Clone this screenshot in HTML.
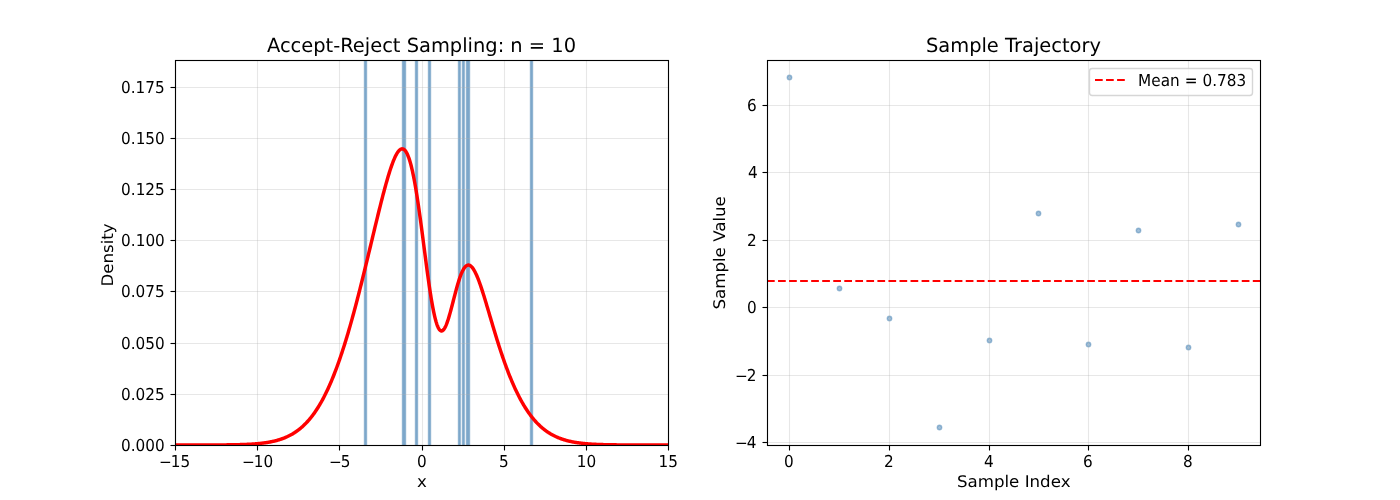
<!DOCTYPE html>
<html lang="en">
<head>
<meta charset="utf-8">
<title>Accept-Reject Sampling</title>
<style>
html,body{margin:0;padding:0;background:#fff;}
body{width:1400px;height:500px;overflow:hidden;}
svg{display:block;}
text{font-family:"DejaVu Sans", "Liberation Sans", sans-serif;fill:#000;text-rendering:geometricPrecision;}
.t11{font-size:15.278px;}
.t12{font-size:16.667px;}
.t14{font-size:19.444px;}
.grid line{stroke:#b0b0b0;stroke-opacity:0.3;stroke-width:1.111;}
.sp{stroke:#000;stroke-width:1.111;fill:none;stroke-linecap:square;}
.tk line{stroke:#000;stroke-width:1.111;}
</style>
</head>
<body>
<svg width="1400" height="500" viewBox="0 0 1400 500">
<rect x="0" y="0" width="1400" height="500" fill="#ffffff"/>
<defs>
<clipPath id="c1"><rect x="175" y="60" width="493.18" height="385"/></clipPath>
<clipPath id="c2"><rect x="766.82" y="60" width="493.18" height="385"/></clipPath>
</defs>
<g id="hist" clip-path="url(#c1)" shape-rendering="crispEdges">
<rect x="363" y="60" width="1" height="386" fill="#ebf1f6"/>
<rect x="364" y="60" width="1" height="386" fill="#8eb3d1"/>
<rect x="365" y="60" width="1" height="386" fill="#7da7ca"/>
<rect x="366" y="60" width="1" height="386" fill="#8eb3d1"/>
<rect x="367" y="60" width="1" height="386" fill="#ebf1f6"/>
<rect x="401" y="60" width="1" height="386" fill="#ebf1f6"/>
<rect x="402" y="60" width="1" height="386" fill="#8eb3d1"/>
<rect x="403" y="60" width="1" height="386" fill="#7da7ca"/>
<rect x="404" y="60" width="1" height="386" fill="#7da7ca"/>
<rect x="405" y="60" width="1" height="386" fill="#8eb3d1"/>
<rect x="406" y="60" width="1" height="386" fill="#ebf1f6"/>
<rect x="414" y="60" width="1" height="386" fill="#ebf1f6"/>
<rect x="415" y="60" width="1" height="386" fill="#8eb3d1"/>
<rect x="416" y="60" width="1" height="386" fill="#7da7ca"/>
<rect x="417" y="60" width="1" height="386" fill="#8eb3d1"/>
<rect x="418" y="60" width="1" height="386" fill="#ebf1f6"/>
<rect x="427" y="60" width="1" height="386" fill="#ebf1f6"/>
<rect x="428" y="60" width="1" height="386" fill="#8eb3d1"/>
<rect x="429" y="60" width="1" height="386" fill="#7da7ca"/>
<rect x="430" y="60" width="1" height="386" fill="#8eb3d1"/>
<rect x="431" y="60" width="1" height="386" fill="#ebf1f6"/>
<rect x="457" y="60" width="1" height="386" fill="#ebf1f6"/>
<rect x="458" y="60" width="1" height="386" fill="#8eb3d1"/>
<rect x="459" y="60" width="1" height="386" fill="#7da7ca"/>
<rect x="460" y="60" width="1" height="386" fill="#9dbdd7"/>
<rect x="461" y="60" width="1" height="386" fill="#e7eef5"/>
<rect x="462" y="60" width="1" height="386" fill="#8eb3d1"/>
<rect x="463" y="60" width="1" height="386" fill="#7da7ca"/>
<rect x="464" y="60" width="1" height="386" fill="#9dbdd7"/>
<rect x="465" y="60" width="1" height="386" fill="#e7eef5"/>
<rect x="466" y="60" width="1" height="386" fill="#8eb3d1"/>
<rect x="467" y="60" width="1" height="386" fill="#7da7ca"/>
<rect x="468" y="60" width="1" height="386" fill="#7da7ca"/>
<rect x="469" y="60" width="1" height="386" fill="#8eb3d1"/>
<rect x="470" y="60" width="1" height="386" fill="#ebf1f6"/>
<rect x="529" y="60" width="1" height="386" fill="#ebf1f6"/>
<rect x="530" y="60" width="1" height="386" fill="#8eb3d1"/>
<rect x="531" y="60" width="1" height="386" fill="#7da7ca"/>
<rect x="532" y="60" width="1" height="386" fill="#8eb3d1"/>
<rect x="533" y="60" width="1" height="386" fill="#ebf1f6"/>
</g>
<g class="grid">
<line x1="175.5" y1="60" x2="175.5" y2="445"/>
<line x1="257.5" y1="60" x2="257.5" y2="445"/>
<line x1="339.5" y1="60" x2="339.5" y2="445"/>
<line x1="422.5" y1="60" x2="422.5" y2="445"/>
<line x1="504.5" y1="60" x2="504.5" y2="445"/>
<line x1="586.5" y1="60" x2="586.5" y2="445"/>
<line x1="668.5" y1="60" x2="668.5" y2="445"/>
<line x1="175" y1="445.5" x2="668.18" y2="445.5"/>
<line x1="175" y1="394.5" x2="668.18" y2="394.5"/>
<line x1="175" y1="343.5" x2="668.18" y2="343.5"/>
<line x1="175" y1="291.5" x2="668.18" y2="291.5"/>
<line x1="175" y1="240.5" x2="668.18" y2="240.5"/>
<line x1="175" y1="189.5" x2="668.18" y2="189.5"/>
<line x1="175" y1="138.5" x2="668.18" y2="138.5"/>
<line x1="175" y1="87.5" x2="668.18" y2="87.5"/>
</g>
<path d="M175 444.999 L175.494 444.999 L175.987 444.999 L176.481 444.999 L176.975 444.998 L177.468 444.998 L177.962 444.998 L178.456 444.998 L178.949 444.998 L179.443 444.998 L179.937 444.998 L180.43 444.998 L180.924 444.998 L181.418 444.998 L181.911 444.997 L182.405 444.997 L182.899 444.997 L183.392 444.997 L183.886 444.997 L184.38 444.997 L184.874 444.997 L185.367 444.996 L185.861 444.996 L186.355 444.996 L186.848 444.996 L187.342 444.996 L187.836 444.995 L188.329 444.995 L188.823 444.995 L189.317 444.995 L189.81 444.995 L190.304 444.994 L190.798 444.994 L191.291 444.994 L191.785 444.993 L192.279 444.993 L192.772 444.993 L193.266 444.992 L193.76 444.992 L194.253 444.992 L194.747 444.991 L195.241 444.991 L195.734 444.99 L196.228 444.99 L196.722 444.99 L197.215 444.989 L197.709 444.989 L198.203 444.988 L198.696 444.988 L199.19 444.987 L199.684 444.986 L200.177 444.986 L200.671 444.985 L201.165 444.984 L201.658 444.984 L202.152 444.983 L202.646 444.982 L203.14 444.981 L203.633 444.98 L204.127 444.98 L204.621 444.979 L205.114 444.978 L205.608 444.977 L206.102 444.976 L206.595 444.975 L207.089 444.973 L207.583 444.972 L208.076 444.971 L208.57 444.97 L209.064 444.968 L209.557 444.967 L210.051 444.966 L210.545 444.964 L211.038 444.962 L211.532 444.961 L212.026 444.959 L212.519 444.957 L213.013 444.956 L213.507 444.954 L214 444.952 L214.494 444.95 L214.988 444.947 L215.481 444.945 L215.975 444.943 L216.469 444.94 L216.962 444.938 L217.456 444.935 L217.95 444.932 L218.443 444.93 L218.937 444.927 L219.431 444.924 L219.924 444.92 L220.418 444.917 L220.912 444.914 L221.405 444.91 L221.899 444.906 L222.393 444.902 L222.887 444.898 L223.38 444.894 L223.874 444.89 L224.368 444.885 L224.861 444.881 L225.355 444.876 L225.849 444.871 L226.342 444.866 L226.836 444.86 L227.33 444.854 L227.823 444.849 L228.317 444.843 L228.811 444.836 L229.304 444.83 L229.798 444.823 L230.292 444.816 L230.785 444.809 L231.279 444.801 L231.773 444.793 L232.266 444.785 L232.76 444.777 L233.254 444.768 L233.747 444.759 L234.241 444.75 L234.735 444.74 L235.228 444.73 L235.722 444.72 L236.216 444.709 L236.709 444.698 L237.203 444.686 L237.697 444.674 L238.19 444.662 L238.684 444.649 L239.178 444.636 L239.671 444.622 L240.165 444.608 L240.659 444.593 L241.153 444.578 L241.646 444.562 L242.14 444.546 L242.634 444.529 L243.127 444.512 L243.621 444.494 L244.115 444.475 L244.608 444.456 L245.102 444.436 L245.596 444.415 L246.089 444.394 L246.583 444.372 L247.077 444.35 L247.57 444.326 L248.064 444.302 L248.558 444.277 L249.051 444.251 L249.545 444.225 L250.039 444.197 L250.532 444.169 L251.026 444.139 L251.52 444.109 L252.013 444.078 L252.507 444.046 L253.001 444.012 L253.494 443.978 L253.988 443.943 L254.482 443.906 L254.975 443.868 L255.469 443.83 L255.963 443.789 L256.456 443.748 L256.95 443.706 L257.444 443.662 L257.937 443.616 L258.431 443.57 L258.925 443.522 L259.419 443.472 L259.912 443.421 L260.406 443.368 L260.9 443.314 L261.393 443.258 L261.887 443.201 L262.381 443.142 L262.874 443.081 L263.368 443.018 L263.862 442.954 L264.355 442.887 L264.849 442.819 L265.343 442.748 L265.836 442.676 L266.33 442.601 L266.824 442.525 L267.317 442.446 L267.811 442.365 L268.305 442.281 L268.798 442.195 L269.292 442.107 L269.786 442.017 L270.279 441.923 L270.773 441.828 L271.267 441.729 L271.76 441.628 L272.254 441.524 L272.748 441.417 L273.241 441.308 L273.735 441.195 L274.229 441.079 L274.722 440.96 L275.216 440.838 L275.71 440.713 L276.203 440.584 L276.697 440.452 L277.191 440.317 L277.685 440.178 L278.178 440.035 L278.672 439.889 L279.166 439.739 L279.659 439.585 L280.153 439.427 L280.647 439.264 L281.14 439.098 L281.634 438.928 L282.128 438.753 L282.621 438.574 L283.115 438.391 L283.609 438.203 L284.102 438.01 L284.596 437.813 L285.09 437.61 L285.583 437.403 L286.077 437.191 L286.571 436.973 L287.064 436.751 L287.558 436.523 L288.052 436.29 L288.545 436.051 L289.039 435.806 L289.533 435.556 L290.026 435.3 L290.52 435.038 L291.014 434.77 L291.507 434.496 L292.001 434.215 L292.495 433.928 L292.988 433.635 L293.482 433.335 L293.976 433.028 L294.469 432.715 L294.963 432.394 L295.457 432.067 L295.95 431.732 L296.444 431.39 L296.938 431.041 L297.432 430.684 L297.925 430.319 L298.419 429.947 L298.913 429.566 L299.406 429.178 L299.9 428.781 L300.394 428.377 L300.887 427.964 L301.381 427.542 L301.875 427.112 L302.368 426.673 L302.862 426.225 L303.356 425.768 L303.849 425.301 L304.343 424.826 L304.837 424.341 L305.33 423.847 L305.824 423.343 L306.318 422.829 L306.811 422.305 L307.305 421.772 L307.799 421.228 L308.292 420.673 L308.786 420.109 L309.28 419.534 L309.773 418.948 L310.267 418.351 L310.761 417.743 L311.254 417.125 L311.748 416.495 L312.242 415.854 L312.735 415.201 L313.229 414.537 L313.723 413.861 L314.216 413.173 L314.71 412.474 L315.204 411.762 L315.698 411.038 L316.191 410.302 L316.685 409.554 L317.179 408.793 L317.672 408.019 L318.166 407.233 L318.66 406.433 L319.153 405.621 L319.647 404.796 L320.141 403.957 L320.634 403.106 L321.128 402.24 L321.622 401.362 L322.115 400.469 L322.609 399.563 L323.103 398.644 L323.596 397.71 L324.09 396.763 L324.584 395.801 L325.077 394.825 L325.571 393.835 L326.065 392.831 L326.558 391.812 L327.052 390.779 L327.546 389.731 L328.039 388.669 L328.533 387.592 L329.027 386.5 L329.52 385.394 L330.014 384.273 L330.508 383.136 L331.001 381.985 L331.495 380.819 L331.989 379.638 L332.482 378.442 L332.976 377.23 L333.47 376.004 L333.964 374.762 L334.457 373.505 L334.951 372.233 L335.445 370.946 L335.938 369.644 L336.432 368.326 L336.926 366.993 L337.419 365.645 L337.913 364.282 L338.407 362.903 L338.9 361.51 L339.394 360.101 L339.888 358.677 L340.381 357.238 L340.875 355.784 L341.369 354.315 L341.862 352.83 L342.356 351.331 L342.85 349.818 L343.343 348.289 L343.837 346.746 L344.331 345.188 L344.824 343.615 L345.318 342.029 L345.812 340.427 L346.305 338.812 L346.799 337.182 L347.293 335.538 L347.786 333.881 L348.28 332.209 L348.774 330.524 L349.267 328.826 L349.761 327.114 L350.255 325.388 L350.748 323.65 L351.242 321.899 L351.736 320.135 L352.23 318.358 L352.723 316.569 L353.217 314.768 L353.711 312.955 L354.204 311.13 L354.698 309.293 L355.192 307.445 L355.685 305.585 L356.179 303.715 L356.673 301.834 L357.166 299.943 L357.66 298.041 L358.154 296.129 L358.647 294.208 L359.141 292.277 L359.635 290.337 L360.128 288.388 L360.622 286.43 L361.116 284.464 L361.609 282.49 L362.103 280.508 L362.597 278.519 L363.09 276.523 L363.584 274.52 L364.078 272.511 L364.571 270.495 L365.065 268.474 L365.559 266.447 L366.052 264.416 L366.546 262.38 L367.04 260.339 L367.533 258.295 L368.027 256.247 L368.521 254.196 L369.014 252.143 L369.508 250.088 L370.002 248.03 L370.495 245.972 L370.989 243.912 L371.483 241.852 L371.977 239.793 L372.47 237.734 L372.964 235.676 L373.458 233.62 L373.951 231.566 L374.445 229.514 L374.939 227.466 L375.432 225.422 L375.926 223.383 L376.42 221.348 L376.913 219.32 L377.407 217.297 L377.901 215.282 L378.394 213.275 L378.888 211.276 L379.382 209.286 L379.875 207.307 L380.369 205.338 L380.863 203.381 L381.356 201.437 L381.85 199.506 L382.344 197.589 L382.837 195.688 L383.331 193.803 L383.825 191.935 L384.318 190.086 L384.812 188.257 L385.306 186.448 L385.799 184.661 L386.293 182.897 L386.787 181.158 L387.28 179.445 L387.774 177.758 L388.268 176.101 L388.761 174.474 L389.255 172.878 L389.749 171.316 L390.243 169.788 L390.736 168.298 L391.23 166.845 L391.724 165.433 L392.217 164.064 L392.711 162.738 L393.205 161.458 L393.698 160.227 L394.192 159.046 L394.686 157.917 L395.179 156.843 L395.673 155.825 L396.167 154.867 L396.66 153.97 L397.154 153.137 L397.648 152.37 L398.141 151.671 L398.635 151.044 L399.129 150.49 L399.622 150.012 L400.116 149.612 L400.61 149.293 L401.103 149.058 L401.597 148.908 L402.091 148.846 L402.584 148.875 L403.078 148.996 L403.572 149.212 L404.065 149.526 L404.559 149.939 L405.053 150.453 L405.546 151.07 L406.04 151.791 L406.534 152.62 L407.027 153.556 L407.521 154.602 L408.015 155.758 L408.509 157.026 L409.002 158.407 L409.496 159.9 L409.99 161.506 L410.483 163.226 L410.977 165.059 L411.471 167.006 L411.964 169.064 L412.458 171.235 L412.952 173.515 L413.445 175.905 L413.939 178.401 L414.433 181.003 L414.926 183.708 L415.42 186.512 L415.914 189.414 L416.407 192.409 L416.901 195.495 L417.395 198.667 L417.888 201.921 L418.382 205.252 L418.876 208.656 L419.369 212.127 L419.863 215.66 L420.357 219.249 L420.85 222.888 L421.344 226.571 L421.838 230.292 L422.331 234.043 L422.825 237.818 L423.319 241.61 L423.812 245.412 L424.306 249.215 L424.8 253.013 L425.293 256.798 L425.787 260.562 L426.281 264.298 L426.775 267.997 L427.268 271.653 L427.762 275.257 L428.256 278.802 L428.749 282.281 L429.243 285.686 L429.737 289.009 L430.23 292.244 L430.724 295.384 L431.218 298.423 L431.711 301.354 L432.205 304.171 L432.699 306.869 L433.192 309.442 L433.686 311.885 L434.18 314.194 L434.673 316.364 L435.167 318.392 L435.661 320.274 L436.154 322.008 L436.648 323.592 L437.142 325.022 L437.635 326.298 L438.129 327.42 L438.623 328.386 L439.116 329.196 L439.61 329.851 L440.104 330.352 L440.597 330.701 L441.091 330.899 L441.585 330.949 L442.078 330.854 L442.572 330.617 L443.066 330.241 L443.559 329.732 L444.053 329.093 L444.547 328.329 L445.04 327.446 L445.534 326.448 L446.028 325.342 L446.522 324.135 L447.015 322.831 L447.509 321.438 L448.003 319.962 L448.496 318.411 L448.99 316.791 L449.484 315.109 L449.977 313.373 L450.471 311.589 L450.965 309.765 L451.458 307.907 L451.952 306.024 L452.446 304.122 L452.939 302.208 L453.433 300.289 L453.927 298.372 L454.42 296.462 L454.914 294.568 L455.408 292.694 L455.901 290.846 L456.395 289.031 L456.889 287.254 L457.382 285.52 L457.876 283.833 L458.37 282.2 L458.863 280.623 L459.357 279.107 L459.851 277.656 L460.344 276.273 L460.838 274.962 L461.332 273.724 L461.825 272.563 L462.319 271.482 L462.813 270.481 L463.306 269.562 L463.8 268.728 L464.294 267.978 L464.788 267.314 L465.281 266.736 L465.775 266.245 L466.269 265.84 L466.762 265.521 L467.256 265.288 L467.75 265.14 L468.243 265.076 L468.737 265.096 L469.231 265.198 L469.724 265.38 L470.218 265.641 L470.712 265.979 L471.205 266.394 L471.699 266.881 L472.193 267.441 L472.686 268.069 L473.18 268.765 L473.674 269.527 L474.167 270.35 L474.661 271.235 L475.155 272.177 L475.648 273.175 L476.142 274.226 L476.636 275.327 L477.129 276.477 L477.623 277.673 L478.117 278.913 L478.61 280.193 L479.104 281.512 L479.598 282.867 L480.091 284.257 L480.585 285.678 L481.079 287.129 L481.572 288.608 L482.066 290.112 L482.56 291.639 L483.054 293.188 L483.547 294.756 L484.041 296.342 L484.535 297.944 L485.028 299.559 L485.522 301.187 L486.016 302.826 L486.509 304.475 L487.003 306.131 L487.497 307.794 L487.99 309.461 L488.484 311.133 L488.978 312.807 L489.471 314.482 L489.965 316.158 L490.459 317.833 L490.952 319.506 L491.446 321.176 L491.94 322.843 L492.433 324.505 L492.927 326.162 L493.421 327.813 L493.914 329.458 L494.408 331.095 L494.902 332.724 L495.395 334.344 L495.889 335.956 L496.383 337.557 L496.876 339.149 L497.37 340.73 L497.864 342.3 L498.357 343.859 L498.851 345.406 L499.345 346.941 L499.838 348.463 L500.332 349.973 L500.826 351.47 L501.32 352.954 L501.813 354.425 L502.307 355.881 L502.801 357.325 L503.294 358.754 L503.788 360.169 L504.282 361.57 L504.775 362.957 L505.269 364.329 L505.763 365.687 L506.256 367.03 L506.75 368.359 L507.244 369.673 L507.737 370.972 L508.231 372.256 L508.725 373.525 L509.218 374.78 L509.712 376.019 L510.206 377.244 L510.699 378.453 L511.193 379.648 L511.687 380.828 L512.18 381.993 L512.674 383.143 L513.168 384.278 L513.661 385.399 L514.155 386.505 L514.649 387.596 L515.142 388.672 L515.636 389.734 L516.13 390.782 L516.623 391.814 L517.117 392.833 L517.611 393.837 L518.104 394.827 L518.598 395.802 L519.092 396.764 L519.585 397.711 L520.079 398.645 L520.573 399.564 L521.067 400.47 L521.56 401.362 L522.054 402.241 L522.548 403.106 L523.041 403.958 L523.535 404.796 L524.029 405.621 L524.522 406.434 L525.016 407.233 L525.51 408.019 L526.003 408.793 L526.497 409.554 L526.991 410.302 L527.484 411.038 L527.978 411.762 L528.472 412.474 L528.965 413.173 L529.459 413.861 L529.953 414.537 L530.446 415.201 L530.94 415.854 L531.434 416.495 L531.927 417.125 L532.421 417.743 L532.915 418.351 L533.408 418.948 L533.902 419.534 L534.396 420.109 L534.889 420.673 L535.383 421.228 L535.877 421.772 L536.37 422.305 L536.864 422.829 L537.358 423.343 L537.851 423.847 L538.345 424.341 L538.839 424.826 L539.333 425.301 L539.826 425.768 L540.32 426.225 L540.814 426.673 L541.307 427.112 L541.801 427.542 L542.295 427.964 L542.788 428.377 L543.282 428.781 L543.776 429.178 L544.269 429.566 L544.763 429.947 L545.257 430.319 L545.75 430.684 L546.244 431.041 L546.738 431.39 L547.231 431.732 L547.725 432.067 L548.219 432.394 L548.712 432.715 L549.206 433.028 L549.7 433.335 L550.193 433.635 L550.687 433.928 L551.181 434.215 L551.674 434.496 L552.168 434.77 L552.662 435.038 L553.155 435.3 L553.649 435.556 L554.143 435.806 L554.636 436.051 L555.13 436.29 L555.624 436.523 L556.117 436.751 L556.611 436.973 L557.105 437.191 L557.599 437.403 L558.092 437.61 L558.586 437.813 L559.08 438.01 L559.573 438.203 L560.067 438.391 L560.561 438.574 L561.054 438.753 L561.548 438.928 L562.042 439.098 L562.535 439.264 L563.029 439.427 L563.523 439.585 L564.016 439.739 L564.51 439.889 L565.004 440.035 L565.497 440.178 L565.991 440.317 L566.485 440.452 L566.978 440.584 L567.472 440.713 L567.966 440.838 L568.459 440.96 L568.953 441.079 L569.447 441.195 L569.94 441.308 L570.434 441.417 L570.928 441.524 L571.421 441.628 L571.915 441.729 L572.409 441.828 L572.902 441.923 L573.396 442.017 L573.89 442.107 L574.383 442.195 L574.877 442.281 L575.371 442.365 L575.865 442.446 L576.358 442.525 L576.852 442.601 L577.346 442.676 L577.839 442.748 L578.333 442.819 L578.827 442.887 L579.32 442.954 L579.814 443.018 L580.308 443.081 L580.801 443.142 L581.295 443.201 L581.789 443.258 L582.282 443.314 L582.776 443.368 L583.27 443.421 L583.763 443.472 L584.257 443.522 L584.751 443.57 L585.244 443.616 L585.738 443.662 L586.232 443.706 L586.725 443.748 L587.219 443.789 L587.713 443.83 L588.206 443.868 L588.7 443.906 L589.194 443.943 L589.687 443.978 L590.181 444.012 L590.675 444.046 L591.168 444.078 L591.662 444.109 L592.156 444.139 L592.649 444.169 L593.143 444.197 L593.637 444.225 L594.13 444.251 L594.624 444.277 L595.118 444.302 L595.612 444.326 L596.105 444.35 L596.599 444.372 L597.093 444.394 L597.586 444.415 L598.08 444.436 L598.574 444.456 L599.067 444.475 L599.561 444.494 L600.055 444.512 L600.548 444.529 L601.042 444.546 L601.536 444.562 L602.029 444.578 L602.523 444.593 L603.017 444.608 L603.51 444.622 L604.004 444.636 L604.498 444.649 L604.991 444.662 L605.485 444.674 L605.979 444.686 L606.472 444.698 L606.966 444.709 L607.46 444.72 L607.953 444.73 L608.447 444.74 L608.941 444.75 L609.434 444.759 L609.928 444.768 L610.422 444.777 L610.915 444.785 L611.409 444.793 L611.903 444.801 L612.396 444.809 L612.89 444.816 L613.384 444.823 L613.878 444.83 L614.371 444.836 L614.865 444.843 L615.359 444.849 L615.852 444.854 L616.346 444.86 L616.84 444.866 L617.333 444.871 L617.827 444.876 L618.321 444.881 L618.814 444.885 L619.308 444.89 L619.802 444.894 L620.295 444.898 L620.789 444.902 L621.283 444.906 L621.776 444.91 L622.27 444.914 L622.764 444.917 L623.257 444.92 L623.751 444.924 L624.245 444.927 L624.738 444.93 L625.232 444.932 L625.726 444.935 L626.219 444.938 L626.713 444.94 L627.207 444.943 L627.7 444.945 L628.194 444.947 L628.688 444.95 L629.181 444.952 L629.675 444.954 L630.169 444.956 L630.662 444.957 L631.156 444.959 L631.65 444.961 L632.144 444.962 L632.637 444.964 L633.131 444.966 L633.625 444.967 L634.118 444.968 L634.612 444.97 L635.106 444.971 L635.599 444.972 L636.093 444.973 L636.587 444.975 L637.08 444.976 L637.574 444.977 L638.068 444.978 L638.561 444.979 L639.055 444.98 L639.549 444.98 L640.042 444.981 L640.536 444.982 L641.03 444.983 L641.523 444.984 L642.017 444.984 L642.511 444.985 L643.004 444.986 L643.498 444.986 L643.992 444.987 L644.485 444.988 L644.979 444.988 L645.473 444.989 L645.966 444.989 L646.46 444.99 L646.954 444.99 L647.447 444.99 L647.941 444.991 L648.435 444.991 L648.928 444.992 L649.422 444.992 L649.916 444.992 L650.41 444.993 L650.903 444.993 L651.397 444.993 L651.891 444.994 L652.384 444.994 L652.878 444.994 L653.372 444.995 L653.865 444.995 L654.359 444.995 L654.853 444.995 L655.346 444.995 L655.84 444.996 L656.334 444.996 L656.827 444.996 L657.321 444.996 L657.815 444.996 L658.308 444.997 L658.802 444.997 L659.296 444.997 L659.789 444.997 L660.283 444.997 L660.777 444.997 L661.27 444.997 L661.764 444.998 L662.258 444.998 L662.751 444.998 L663.245 444.998 L663.739 444.998 L664.232 444.998 L664.726 444.998 L665.22 444.998 L665.713 444.998 L666.207 444.998 L666.701 444.999 L667.194 444.999 L667.688 444.999 L668.182 444.999 L668.18 445" fill="none" stroke="#ff0000" stroke-width="3.472" stroke-linejoin="round" stroke-linecap="square" clip-path="url(#c1)"/>
<g class="tk">
<line x1="175.5" y1="445.5" x2="175.5" y2="450.5"/>
<line x1="257.5" y1="445.5" x2="257.5" y2="450.5"/>
<line x1="339.5" y1="445.5" x2="339.5" y2="450.5"/>
<line x1="422.5" y1="445.5" x2="422.5" y2="450.5"/>
<line x1="504.5" y1="445.5" x2="504.5" y2="450.5"/>
<line x1="586.5" y1="445.5" x2="586.5" y2="450.5"/>
<line x1="668.5" y1="445.5" x2="668.5" y2="450.5"/>
<line x1="170.5" y1="445.5" x2="175.5" y2="445.5"/>
<line x1="170.5" y1="394.5" x2="175.5" y2="394.5"/>
<line x1="170.5" y1="343.5" x2="175.5" y2="343.5"/>
<line x1="170.5" y1="291.5" x2="175.5" y2="291.5"/>
<line x1="170.5" y1="240.5" x2="175.5" y2="240.5"/>
<line x1="170.5" y1="189.5" x2="175.5" y2="189.5"/>
<line x1="170.5" y1="138.5" x2="175.5" y2="138.5"/>
<line x1="170.5" y1="87.5" x2="175.5" y2="87.5"/>
</g>
<rect class="sp" x="175.5" y="60.5" width="493" height="385"/>
<g id="pts" fill="#4682b4" fill-opacity="0.5" stroke="#4682b4" stroke-opacity="0.5" stroke-width="1.39">
<circle cx="789.5" cy="77.5" r="2.2"/>
<circle cx="839.5" cy="288.5" r="2.2"/>
<circle cx="889.5" cy="318.5" r="2.2"/>
<circle cx="939.5" cy="427.5" r="2.2"/>
<circle cx="989.5" cy="340.5" r="2.2"/>
<circle cx="1038.5" cy="213.5" r="2.2"/>
<circle cx="1088.5" cy="344.5" r="2.2"/>
<circle cx="1138.5" cy="230.5" r="2.2"/>
<circle cx="1188.5" cy="347.5" r="2.2"/>
<circle cx="1238.5" cy="224.5" r="2.2"/>
</g>
<g class="grid">
<line x1="789.5" y1="60" x2="789.5" y2="445"/>
<line x1="889.5" y1="60" x2="889.5" y2="445"/>
<line x1="989.5" y1="60" x2="989.5" y2="445"/>
<line x1="1088.5" y1="60" x2="1088.5" y2="445"/>
<line x1="1188.5" y1="60" x2="1188.5" y2="445"/>
<line x1="766.82" y1="442.5" x2="1260" y2="442.5"/>
<line x1="766.82" y1="375.5" x2="1260" y2="375.5"/>
<line x1="766.82" y1="307.5" x2="1260" y2="307.5"/>
<line x1="766.82" y1="240.5" x2="1260" y2="240.5"/>
<line x1="766.82" y1="172.5" x2="1260" y2="172.5"/>
<line x1="766.82" y1="105.5" x2="1260" y2="105.5"/>
</g>
<line x1="767" y1="281" x2="1260" y2="281" stroke="#ff0000" stroke-width="2.083" stroke-dasharray="7.708 3.333" clip-path="url(#c2)"/>
<g class="tk">
<line x1="789.5" y1="445.5" x2="789.5" y2="450.5"/>
<line x1="889.5" y1="445.5" x2="889.5" y2="450.5"/>
<line x1="989.5" y1="445.5" x2="989.5" y2="450.5"/>
<line x1="1088.5" y1="445.5" x2="1088.5" y2="450.5"/>
<line x1="1188.5" y1="445.5" x2="1188.5" y2="450.5"/>
<line x1="762.5" y1="442.5" x2="767.5" y2="442.5"/>
<line x1="762.5" y1="375.5" x2="767.5" y2="375.5"/>
<line x1="762.5" y1="307.5" x2="767.5" y2="307.5"/>
<line x1="762.5" y1="240.5" x2="767.5" y2="240.5"/>
<line x1="762.5" y1="172.5" x2="767.5" y2="172.5"/>
<line x1="762.5" y1="105.5" x2="767.5" y2="105.5"/>
</g>
<rect class="sp" x="767.5" y="60.5" width="493" height="385"/>
<rect x="1089.5" y="68.5" width="163" height="27" rx="2.78" ry="2.78" fill="#ffffff" fill-opacity="0.8" stroke="#cccccc" stroke-opacity="0.8" stroke-width="1.389"/>
<line x1="1095" y1="80" x2="1125.55" y2="80" stroke="#ff0000" stroke-width="2.083" stroke-dasharray="7.708 3.333"/>
<g id="labels">
<text class="t14" text-anchor="middle" transform="matrix(1 0.0005 0 1 421.51 52)">Accept-Reject Sampling: n = 10</text>
<text class="t12" text-anchor="middle" transform="matrix(1 0.0005 0 0.96 421.82 487)">x</text>
<text class="t12" text-anchor="middle" transform="matrix(0.0005 -1 0.96 0 113 254.95)">Density</text>
<text class="t11" text-anchor="start" transform="matrix(1 0.0005 0 1.077 174.09 467)"><tspan x="-15.12" y="0.464">−</tspan><tspan x="-3.32" y="0">15</tspan></text>
<text class="t11" text-anchor="start" transform="matrix(1 0.0005 0 1.077 256.99 467)"><tspan x="-15.12" y="0.464">−</tspan><tspan x="-3.32" y="0">10</tspan></text>
<text class="t11" text-anchor="start" transform="matrix(1 0.0005 0 1.077 339.14 467)"><tspan x="-10.26" y="0.464">−</tspan><tspan x="1.54" y="0">5</tspan></text>
<text class="t11" text-anchor="middle" transform="matrix(1 0.0005 0 1.077 421.76 467)">0</text>
<text class="t11" text-anchor="middle" transform="matrix(1 0.0005 0 1.077 503.9 467)">5</text>
<text class="t11" text-anchor="middle" transform="matrix(1 0.0005 0 1.077 586.45 467)">10</text>
<text class="t11" text-anchor="middle" transform="matrix(1 0.0005 0 1.077 668.22 467)">15</text>
<text class="t11" text-anchor="end" transform="matrix(1 0.0005 0 1.077 164.63 451)">0.000</text>
<text class="t11" text-anchor="end" transform="matrix(1 0.0005 0 1.077 164.64 400)">0.025</text>
<text class="t11" text-anchor="end" transform="matrix(1 0.0005 0 1.077 164.62 349)">0.050</text>
<text class="t11" text-anchor="end" transform="matrix(1 0.0005 0 1.077 164.63 297)">0.075</text>
<text class="t11" text-anchor="end" transform="matrix(1 0.0005 0 1.077 164.81 246)">0.100</text>
<text class="t11" text-anchor="end" transform="matrix(1 0.0005 0 1.077 164.8 195)">0.125</text>
<text class="t11" text-anchor="end" transform="matrix(1 0.0005 0 1.077 164.8 144)">0.150</text>
<text class="t11" text-anchor="end" transform="matrix(1 0.0005 0 1.077 164.64 93)">0.175</text>
<text class="t14" text-anchor="middle" transform="matrix(1 0.0005 0 1 1013.46 52)">Sample Trajectory</text>
<text class="t12" text-anchor="middle" transform="matrix(1 0.0005 0 0.96 1013.68 487)">Sample Index</text>
<text class="t12" text-anchor="middle" transform="matrix(0.0005 -1 0.96 0 725 252.87)">Sample Value</text>
<text class="t11" text-anchor="middle" transform="matrix(1 0.0005 0 1.077 788.74 467)">0</text>
<text class="t11" text-anchor="middle" transform="matrix(1 0.0005 0 1.077 888.75 467)">2</text>
<text class="t11" text-anchor="middle" transform="matrix(1 0.0005 0 1.077 988.75 467)">4</text>
<text class="t11" text-anchor="middle" transform="matrix(1 0.0005 0 1.077 1087.74 467)">6</text>
<text class="t11" text-anchor="middle" transform="matrix(1 0.0005 0 1.077 1187.91 467)">8</text>
<text class="t11" text-anchor="start" transform="matrix(1 0.0005 0 1.077 756.41 448)"><tspan x="-21.52" y="0.464">−</tspan><tspan x="-9.72" y="0">4</tspan></text>
<text class="t11" text-anchor="start" transform="matrix(1 0.0005 0 1.077 756.5 381)"><tspan x="-21.52" y="0.464">−</tspan><tspan x="-9.72" y="0">2</tspan></text>
<text class="t11" text-anchor="end" transform="matrix(1 0.0005 0 1.077 756.6 313)">0</text>
<text class="t11" text-anchor="end" transform="matrix(1 0.0005 0 1.077 756.76 246)">2</text>
<text class="t11" text-anchor="end" transform="matrix(1 0.0005 0 1.077 757.61 178)">4</text>
<text class="t11" text-anchor="end" transform="matrix(1 0.0005 0 1.077 756.6 111)">6</text>
<text class="t11" text-anchor="start" style="letter-spacing:0.05px" transform="matrix(1 0.0005 0 1.077 1137.99 86)">Mean = 0.783</text>
</g>
</svg>
</body>
</html>
